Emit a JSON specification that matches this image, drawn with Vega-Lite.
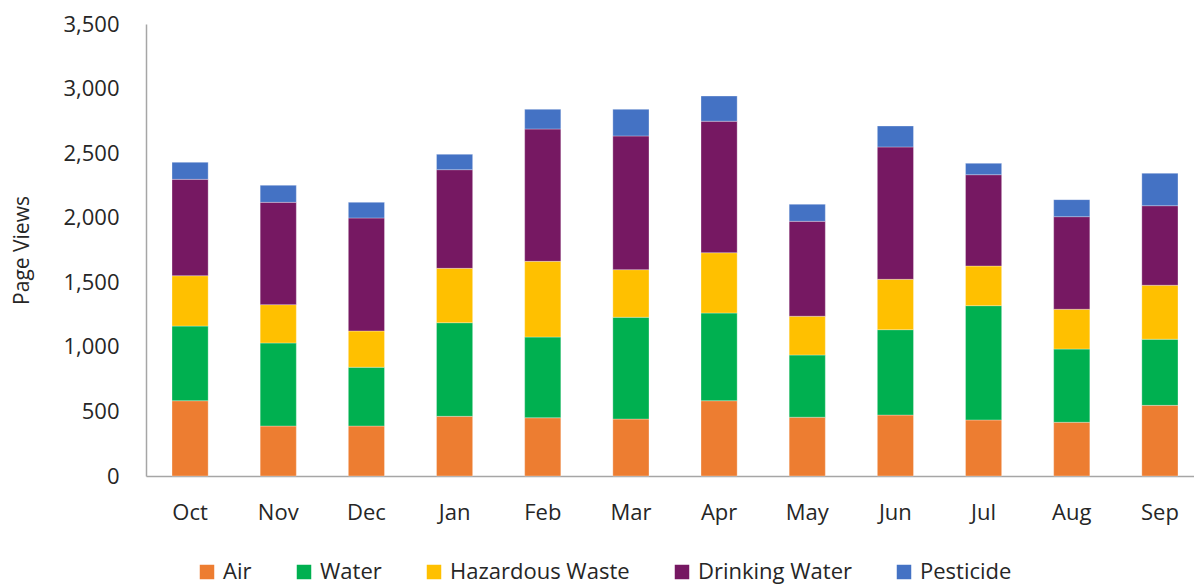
{
  "$schema": "https://vega.github.io/schema/vega-lite/v6.json",
  "autosize": "none",
  "width": 1058,
  "height": 452,
  "padding": {"left": 146, "top": 24, "right": 0, "bottom": 108},
  "background": "white",
  "title": {
    "text": "Environmental Data Website Page Usage by Program",
    "fontSize": 30,
    "fontWeight": "bold",
    "font": "Open Sans",
    "color": "#000000",
    "baseline": "alphabetic",
    "offset": 21,
    "dx": -60,
    "anchor": "middle"
  },
  "data": {
    "values": [
      {"month": "Oct", "Air": 583, "Water": 578, "Hazardous Waste": 390, "Drinking Water": 746, "Pesticide": 132},
      {"month": "Nov", "Air": 387, "Water": 643, "Hazardous Waste": 297, "Drinking Water": 792, "Pesticide": 132},
      {"month": "Dec", "Air": 387, "Water": 455, "Hazardous Waste": 281, "Drinking Water": 875, "Pesticide": 121},
      {"month": "Jan", "Air": 462, "Water": 725, "Hazardous Waste": 421, "Drinking Water": 764, "Pesticide": 119},
      {"month": "Feb", "Air": 451, "Water": 625, "Hazardous Waste": 586, "Drinking Water": 1025, "Pesticide": 152},
      {"month": "Mar", "Air": 441, "Water": 788, "Hazardous Waste": 369, "Drinking Water": 1035, "Pesticide": 206},
      {"month": "Apr", "Air": 583, "Water": 679, "Hazardous Waste": 467, "Drinking Water": 1018, "Pesticide": 195},
      {"month": "May", "Air": 455, "Water": 482, "Hazardous Waste": 300, "Drinking Water": 735, "Pesticide": 132},
      {"month": "Jun", "Air": 472, "Water": 661, "Hazardous Waste": 390, "Drinking Water": 1025, "Pesticide": 162},
      {"month": "Jul", "Air": 434, "Water": 885, "Hazardous Waste": 307, "Drinking Water": 707, "Pesticide": 88},
      {"month": "Aug", "Air": 416, "Water": 567, "Hazardous Waste": 308, "Drinking Water": 717, "Pesticide": 132},
      {"month": "Sep", "Air": 547, "Water": 512, "Hazardous Waste": 418, "Drinking Water": 616, "Pesticide": 251}
    ]
  },
  "transform": [
    {"fold": ["Air", "Water", "Hazardous Waste", "Drinking Water", "Pesticide"], "as": ["program", "views"]},
    {"calculate": "indexof(['Air','Water','Hazardous Waste','Drinking Water','Pesticide'], datum.program)", "as": "stackOrder"}
  ],
  "mark": {"type": "bar", "stroke": "white", "strokeWidth": 0.6, "strokeOpacity": 0.5},
  "encoding": {
    "x": {
      "field": "month",
      "type": "nominal",
      "sort": ["Oct","Nov","Dec","Jan","Feb","Mar","Apr","May","Jun","Jul","Aug","Sep"],
      "scale": {"paddingInner": 0.59, "paddingOuter": 0.295},
      "axis": {
        "title": null,
        "labelAngle": 0,
        "labelFont": "Open Sans",
        "labelFontSize": 22,
        "labelColor": "#262626",
        "labelPadding": 26,
        "ticks": false,
        "domainColor": "#A6A6A6",
        "domainWidth": 1.5
      }
    },
    "y": {
      "field": "views",
      "type": "quantitative",
      "stack": "zero",
      "scale": {"domain": [0, 3500], "nice": false},
      "axis": {
        "title": "Page Views",
        "titleFont": "Open Sans",
        "titleFontSize": 21,
        "titleFontWeight": "normal",
        "titleColor": "#262626",
        "titlePadding": 30,
        "values": [0, 500, 1000, 1500, 2000, 2500, 3000, 3500],
        "format": ",d",
        "labelFont": "Open Sans",
        "labelFontSize": 22,
        "labelColor": "#262626",
        "labelPadding": 27,
        "ticks": false,
        "grid": false,
        "domainColor": "#A6A6A6",
        "domainWidth": 1.5
      }
    },
    "color": {
      "field": "program",
      "type": "nominal",
      "scale": {
        "domain": ["Air", "Water", "Hazardous Waste", "Drinking Water", "Pesticide"],
        "range": ["#ED7D31", "#00B050", "#FFC000", "#761862", "#4472C4"]
      },
      "legend": {
        "title": null,
        "orient": "none",
        "legendX": 50,
        "legendY": 537,
        "direction": "horizontal",
        "symbolType": "square",
        "symbolSize": 210,
        "symbolStrokeWidth": 0,
        "labelFont": "Open Sans",
        "labelFontSize": 22,
        "labelLimit": 400,
        "labelColor": "#262626",
        "labelOffset": 5,
        "columnPadding": 41
      }
    },
    "order": {"field": "stackOrder", "type": "quantitative"}
  },
  "config": {"view": {"stroke": null}}
}
